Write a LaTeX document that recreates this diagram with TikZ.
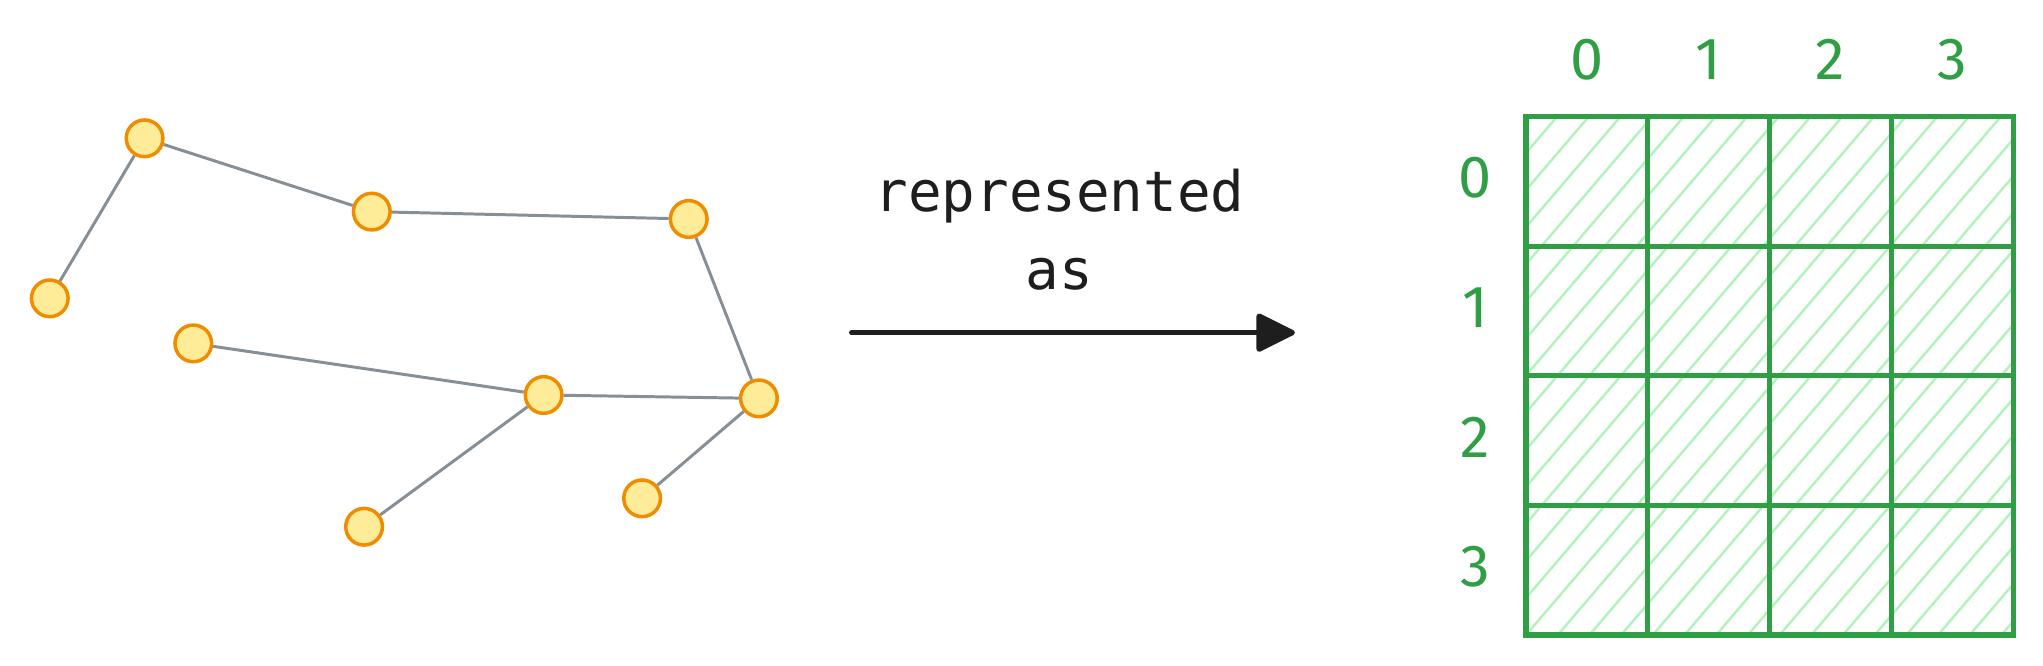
\documentclass[tikz,border=0pt]{standalone}
\usepackage{fontspec}
\setmainfont{Fira Sans}
\newfontfamily\captionfont{DejaVu Sans Mono}
\usetikzlibrary{arrows.meta}

\definecolor{nodefill}{HTML}{FFEC99}
\definecolor{nodeline}{HTML}{F08C00}
\definecolor{edgegray}{HTML}{868E96}
\definecolor{gridgreen}{HTML}{2F9E44}
\definecolor{hatchgreen}{HTML}{B2F2BB}
\definecolor{inkblack}{HTML}{1E1E1E}

\tikzset{every picture/.style={line width=0.75pt},
  vertex/.style={circle, draw=nodeline, fill=nodefill, line width=2pt, minimum size=21pt, inner sep=0pt},
  edge/.style={draw=edgegray, line width=1.7pt},
  gridline/.style={draw=gridgreen, line width=3pt, line cap=round},
  hatch/.style={draw=hatchgreen, line width=1.4pt},
  digit/.style={text=gridgreen, font=\fontsize{34}{34}\selectfont, inner sep=0pt},
}

\begin{document}
\begin{tikzpicture}[x=0.75pt,y=0.75pt,yscale=-1,xscale=1]
\useasboundingbox (0,0) rectangle (1560,508);

%Graph nodes
\node[vertex] (a) at (110.4,105.6) {};
\node[vertex] (b) at (38,227.8) {};
\node[vertex] (c) at (283.9,161.6) {};
\node[vertex] (d) at (525.9,167.2) {};
\node[vertex] (e) at (147.6,262.2) {};
\node[vertex] (f) at (415.1,301.6) {};
\node[vertex] (g) at (579.5,304.2) {};
\node[vertex] (h) at (278,402.2) {};
\node[vertex] (i) at (490.3,380.5) {};

%Graph edges
\draw[edge] (a) -- (b);
\draw[edge] (a) -- (c);
\draw[edge] (c) -- (d);
\draw[edge] (d) -- (g);
\draw[edge] (e) -- (f);
\draw[edge] (f) -- (g);
\draw[edge] (f) -- (h);
\draw[edge] (g) -- (i);

%Arrow
\coordinate (arrowstart) at (650.3,254);
\coordinate (arrowend) at (988.8,254);
\draw[-{Triangle[length=24pt,width=23pt,round]}, line width=3pt, draw=inkblack, fill=inkblack, line cap=round] (arrowstart) -- (arrowend);

% Text Node
\node[font=\captionfont\fontsize{32}{45}\selectfont, text=inkblack, align=center, anchor=base, inner sep=0pt] (caption) at (809,221.4) {represented\\as};

%Hatching of the matrix
\begin{scope}
\clip (1165.2,89.1) rectangle (1537.3,484.9);
\foreach \k in {-15,...,16}
  \draw[hatch] ({1165.2+\k*24.2},484.9) -- ({1503.5+\k*24.2},89.1);
\end{scope}

%Matrix lines
\draw[gridline] (1165.2,89.1) rectangle (1537.3,484.9);
\foreach \x in {1258.2,1351.2,1444.3}
  \draw[gridline] (\x,89.1) -- (\x,484.9);
\foreach \y in {188.1,287,386}
  \draw[gridline] (1165.2,\y) -- (1537.3,\y);

% Text Node
\foreach \i/\x in {0/1211.7,1/1304.7,2/1397.7,3/1490.8}
  \node[digit] (col\i) at (\x,45.2) {\i};
\foreach \i/\y in {0/136,1/235,2/334,3/433}
  \node[digit] (row\i) at (1126.7,\y) {\i};

\end{tikzpicture}
\end{document}
